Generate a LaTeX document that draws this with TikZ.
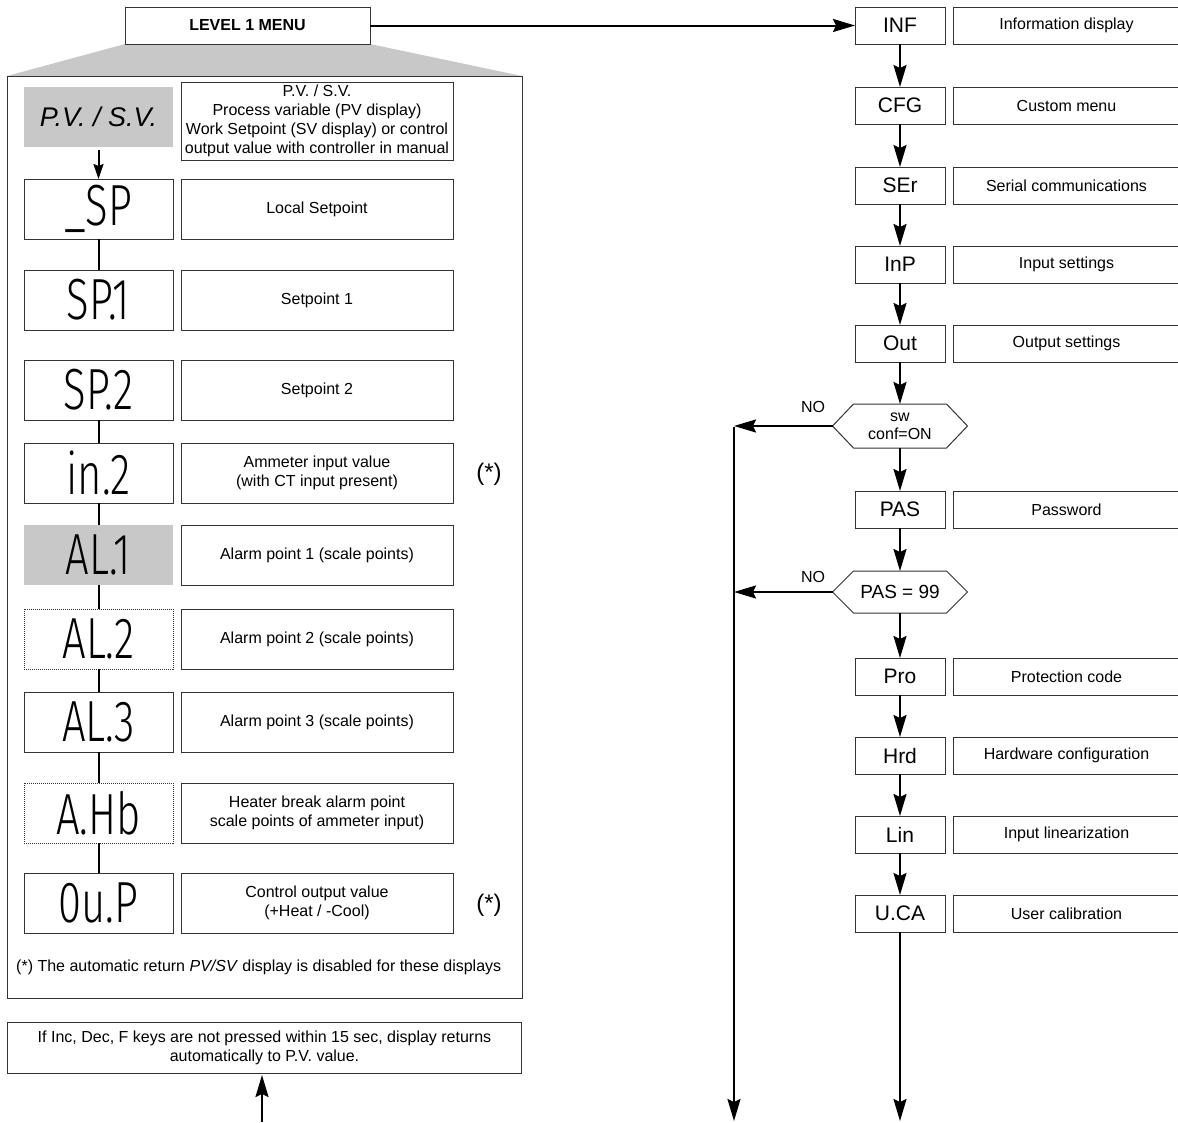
\documentclass[tikz,border=0pt]{standalone}
\usepackage{fontspec}
\setmainfont{Liberation Sans}
\newfontfamily\dispfont[FakeStretch=0.72]{Fira Sans Light}
\usetikzlibrary{arrows.meta,calc}
\definecolor{lgray}{HTML}{C8C8C8}
\definecolor{bline}{HTML}{333333}
\begin{document}
\begin{tikzpicture}[x=1pt,y=-1pt,
  boxline/.style={draw=bline,line width=1pt},
  disp/.style={boxline,minimum width=149pt,minimum height=60pt,inner sep=0pt,outer sep=0pt,font=\dispfont\fontsize{58}{58}\selectfont},
  dispgray/.style={disp,draw=none,fill=lgray},
  dispdot/.style={disp,densely dotted},
  desc/.style={boxline,minimum width=272pt,minimum height=60pt,inner sep=0pt,outer sep=0pt,align=center,font=\fontsize{16}{19}\selectfont},
  rbox/.style={boxline,minimum width=90pt,minimum height=37pt,inner sep=0pt,outer sep=0pt,font=\fontsize{21}{21}\selectfont},
  rdesc/.style={boxline,minimum width=227pt,minimum height=37pt,inner sep=0pt,outer sep=0pt,font=\fontsize{16}{19}\selectfont},
  hexn/.style={minimum width=135pt,inner sep=0pt,outer sep=0pt,align=center},
  arr/.style={line width=2pt,-{Stealth[length=22pt,width=13pt,inset=3pt]}},
  sarr/.style={line width=2pt,-{Stealth[length=15pt,width=10pt,inset=2pt]}},
  link/.style={line width=2pt},
  lbl/.style={font=\fontsize{16}{19}\selectfont,inner sep=0pt},
  star/.style={font=\fontsize{24}{24}\selectfont,inner sep=0pt}
]
\useasboundingbox (0,0) rectangle (1178,1122);

% ---- left part: title, trapezoid, frame
\fill[lgray] (125,44) -- (370,44) -- (522,76) -- (7,76) -- cycle;
\node[boxline,fill=white,minimum width=245pt,minimum height=37pt,inner sep=0pt,outer sep=0pt,font=\bfseries\fontsize{16}{16}\selectfont] (title) at (247.5,25.5) {LEVEL 1 MENU};
\node[boxline,minimum width=515pt,minimum height=922pt,inner sep=0pt,outer sep=0pt] (frame) at (264.5,537) {};

% ---- left column displays
\node[dispgray,font=\itshape\fontsize{27}{27}\selectfont] (pv) at (98.5,117) {P.V. / S.V.};
\node[desc,minimum height=78pt] (pvd) at (317,121) {P.V. / S.V.\\Process variable (PV display)\\Work Setpoint (SV display) or control\\output value with controller in manual};

\node[disp] (sp) at (98.5,209) {\_SP};
\node[desc] (spd) at (317,209) {Local Setpoint};
\node[disp] (sp1) at (98.5,300) {SP.1};
\node[desc] (sp1d) at (317,300) {Setpoint 1};
\node[disp] (sp2) at (98.5,390) {SP.2};
\node[desc] (sp2d) at (317,390) {Setpoint 2};
\node[disp] (in2) at (98.5,473) {in.2};
\node[desc] (in2d) at (317,473) {Ammeter input value\\(with CT input present)};
\node[dispgray] (al1) at (98.5,555) {AL.1};
\node[desc] (al1d) at (317,555) {Alarm point 1 (scale points)};
\node[dispdot] (al2) at (98.5,639) {AL.2};
\node[desc] (al2d) at (317,639) {Alarm point 2 (scale points)};
\node[disp] (al3) at (98.5,722) {AL.3};
\node[desc] (al3d) at (317,722) {Alarm point 3 (scale points)};
\node[dispdot] (ahb) at (98.5,813) {A.Hb};
\node[desc] (ahbd) at (317,813) {Heater break alarm point\\scale points of ammeter input)};
\node[disp] (oup) at (98.5,903) {0u.P};
\node[desc] (oupd) at (317,903) {Control output value\\(+Heat / -Cool)};

\node[star] (st1) at (489,474) {(*)};
\node[star] (st2) at (489,905) {(*)};
\node[lbl,anchor=west] (foot) at (16,967) {(*) The automatic return \textit{PV/SV} display is disabled for these displays};

\node[boxline,minimum width=514pt,minimum height=51pt,inner sep=0pt,outer sep=0pt,align=center,font=\fontsize{16}{19}\selectfont] (note) at (264.5,1047.5) {If Inc, Dec, F keys are not pressed within 15 sec, display returns\\automatically to P.V. value.};
\coordinate (noteIn) at (262,1122);

\draw[sarr,shorten <=3pt] (pv.south) -- (sp.north);
\draw[link] (sp) -- (sp1);
\draw[link] (sp2) -- (in2);
\draw[link] (in2) -- (al1);
\draw[link] (al1) -- (al2);
\draw[link] (al2) -- (al3);
\draw[link] (al3) -- (ahb);
\draw[link] (ahb) -- (oup);
\draw[arr,shorten >=2pt] (noteIn) -- (noteIn |- note.south);

% ---- right column
\node[rbox] (inf) at (900,25.5) {INF};
\node[rdesc] (infd) at (1066.5,25.5) {Information display};
\node[rbox] (cfg) at (900,105.5) {CFG};
\node[rdesc] (cfgd) at (1066.5,105.5) {Custom menu};
\node[rbox] (ser) at (900,185.5) {SEr};
\node[rdesc] (serd) at (1066.5,185.5) {Serial communications};
\node[rbox] (inp) at (900,264.5) {InP};
\node[rdesc] (inpd) at (1066.5,264.5) {Input settings};
\node[rbox] (out) at (900,343.5) {Out};
\node[rdesc] (outd) at (1066.5,343.5) {Output settings};

\node[hexn,minimum height=44pt,font=\fontsize{16}{18}\selectfont] (h1) at (900,426) {sw\\conf=ON};
\draw[boxline] (h1.west) -- ([xshift=21pt]h1.north west) -- ([xshift=-21pt]h1.north east) -- (h1.east) -- ([xshift=-21pt]h1.south east) -- ([xshift=21pt]h1.south west) -- cycle;

\node[rbox] (pas) at (900,509.5) {PAS};
\node[rdesc] (pasd) at (1066.5,509.5) {Password};

\node[hexn,minimum height=42pt,font=\fontsize{19}{19}\selectfont] (h2) at (900,592) {PAS = 99};
\draw[boxline] (h2.west) -- ([xshift=21pt]h2.north west) -- ([xshift=-21pt]h2.north east) -- (h2.east) -- ([xshift=-21pt]h2.south east) -- ([xshift=21pt]h2.south west) -- cycle;

\node[rbox] (pro) at (900,676.5) {Pro};
\node[rdesc] (prod) at (1066.5,676.5) {Protection code};
\node[rbox] (hrd) at (900,755.5) {Hrd};
\node[rdesc] (hrdd) at (1066.5,755.5) {Hardware configuration};
\node[rbox] (lin) at (900,834.5) {Lin};
\node[rdesc] (lind) at (1066.5,834.5) {Input linearization};
\node[rbox] (uca) at (900,913.5) {U.CA};
\node[rdesc] (ucad) at (1066.5,913.5) {User calibration};

\coordinate (no1) at (734,426);
\coordinate (no2) at (734,592);
\coordinate (leftEnd) at (734,1121);
\coordinate (mainEnd) at (900,1121);

\node[lbl] (nol1) at (813,407) {NO};
\node[lbl] (nol2) at (813,577) {NO};

\draw[arr] (title.east) -- (inf.west);
\draw[arr] (inf) -- (cfg);
\draw[arr] (cfg) -- (ser);
\draw[arr] (ser) -- (inp);
\draw[arr] (inp) -- (out);
\draw[arr] (out) -- (h1.north);
\draw[arr] (h1.south) -- (pas);
\draw[arr] (pas) -- (h2.north);
\draw[arr] (h2.south) -- (pro);
\draw[arr] (pro) -- (hrd);
\draw[arr] (hrd) -- (lin);
\draw[arr] (lin) -- (uca);
\draw[arr] (uca) -- (mainEnd);
\draw[arr] (h1.west) -- (no1);
\draw[arr] (h2.west) -- (no2);
\draw[arr] ([yshift=-1pt]no1) -- (leftEnd);
\end{tikzpicture}
\end{document}
